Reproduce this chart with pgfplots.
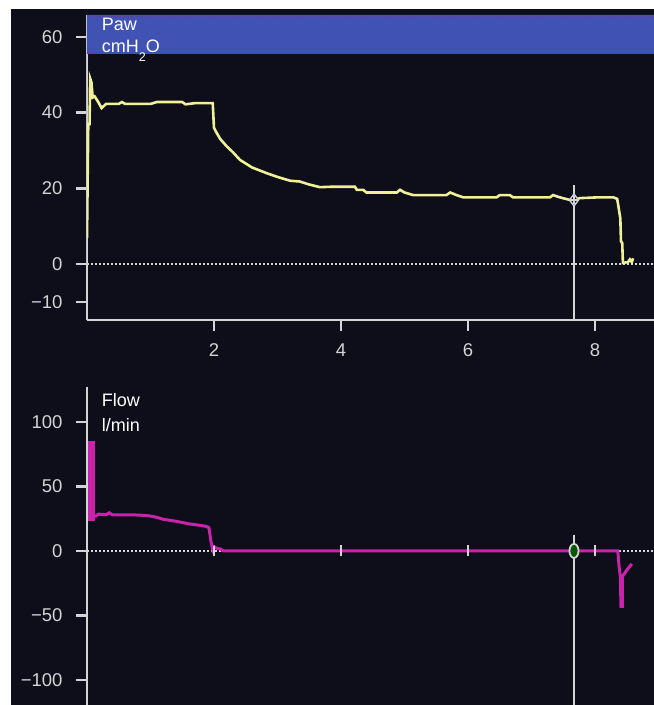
\documentclass[border=0pt]{standalone}
\usepackage{fontspec}
\setmainfont{Liberation Sans}
\usepackage{pgfplots}
\pgfplotsset{compat=1.18}
\definecolor{bgc}{RGB}{14,14,26}
\definecolor{axisc}{RGB}{212,212,212}
\definecolor{pawc}{RGB}{240,240,150}
\definecolor{flowc}{RGB}{200,35,170}
\definecolor{bandc}{RGB}{64,82,180}
\definecolor{bandedge}{RGB}{110,60,150}
\begin{document}
\begin{tikzpicture}[x=1pt,y=1pt]
\fill[white] (0,0) rectangle (654,705);
\fill[bgc] (11,0) rectangle (654,696);
% ---------------- Paw panel ----------------
\begin{axis}[
  at={(87pt,385pt)}, anchor=south west,
  scale only axis, width=567pt, height=305pt,
  xmin=0, xmax=8.93, ymin=-14.8, ymax=65.8,
  axis x line=bottom, axis y line=left,
  axis line style={-, draw=axisc, line width=2.6pt},
  xtick={2,4,6,8}, xticklabels={2,4,6,8},
  ytick={-10,0,20,40,60}, yticklabels={−10,0,20,40,60},
  tick align=outside, major tick length=11pt,
  tick style={draw=axisc, line width=2.4pt},
  ticklabel style={text=axisc, font=\fontsize{18.5}{22}\selectfont},
  yticklabel style={xshift=-10pt},
  xticklabel style={yshift=-9pt},
]
\addplot[fill=bandc, draw=none] coordinates {(0,55.6) (8.93,55.6) (8.93,65.8) (0,65.8)} \closedcycle;
\addplot[bandedge, densely dotted, line width=1.2pt] coordinates {(0,65.4) (8.93,65.4)};
\addplot[bandedge, line width=1pt] coordinates {(0,55.6) (8.93,55.6)};
\addplot[axisc, dash pattern=on 2.2pt off 1.8pt, line width=2pt] coordinates {(0,0) (8.93,0)};
\addplot[axisc, line width=2.8pt] coordinates {(7.67,20.9) (7.67,-14.8)};
\addplot[pawc, line width=2.6pt] coordinates {
(0.0,6.9) (0.02,37) (0.04,37) (0.05,49) (0.07,48) (0.09,44) (0.12,44.3) (0.17,43)
(0.23,41.2) (0.3,42.3) (0.5,42.3) (0.55,42.8) (0.6,42.3) (1.0,42.3) (1.1,42.8)
(1.5,42.8) (1.55,42.2) (1.7,42.5) (1.98,42.5) (2.0,36) (2.04,34.7) (2.1,33)
(2.2,31.1) (2.3,29.5) (2.41,27.5) (2.6,25.5) (2.83,24) (3.0,23) (3.2,22)
(3.35,21.8) (3.5,21) (3.67,20.3) (3.83,20.4) (4.22,20.4) (4.25,19.6) (4.35,19.6)
(4.40,18.9) (4.88,18.9) (4.93,19.6) (5.0,18.9) (5.14,18.2) (5.66,18.2) (5.72,18.9)
(5.82,18.2) (5.93,17.6) (6.45,17.6) (6.50,18.2) (6.66,18.2) (6.71,17.6) (7.29,17.6)
(7.34,18.2) (7.45,17.6) (7.61,16.9) (7.68,16.9) (7.76,17.4) (8.03,17.6) (8.29,17.6)
(8.35,17.2) (8.37,15.2) (8.40,12) (8.41,6) (8.43,5.5) (8.44,0.3) (8.52,0.5)
(8.55,1.2) (8.58,0.5) (8.6,1.5)
};
\addplot[only marks, mark=diamond*, mark size=6pt, mark options={fill=bgc, draw=axisc, line width=1.4pt}] coordinates {(7.67,16.9)};
\addplot[only marks, mark=+, mark size=4pt, mark options={draw=axisc, line width=1.2pt}] coordinates {(7.67,16.9)};
\end{axis}
% ---------------- Flow panel ----------------
\begin{axis}[
  at={(87pt,0pt)}, anchor=south west,
  scale only axis, width=567pt, height=318pt,
  xmin=0, xmax=8.93, ymin=-119.4, ymax=127,
  axis x line=middle, axis y line=left,
  x axis line style={-, draw=axisc, dash pattern=on 2.2pt off 1.8pt, line width=2pt},
  y axis line style={-, draw=axisc, line width=2.6pt},
  xtick={2,4,6,8}, xticklabels={},
  ytick={-100,-50,0,50,100}, yticklabels={−100,−50,0,50,100},
  xtick align=center, ytick align=outside, major tick length=11pt,
  tick style={draw=axisc, line width=2.4pt},
  ticklabel style={text=axisc, font=\fontsize{18.5}{22}\selectfont},
  yticklabel style={xshift=-10pt},
  axis on top=false,
]
\addplot[axisc, line width=2.8pt] coordinates {(7.67,12.4) (7.67,-119.4)};
\addplot[flowc, line width=3pt] coordinates {
(0.06,28) (0.14,27) (0.18,28.5) (0.3,28) (0.35,29.5) (0.4,28) (0.7,28) (0.9,27.5)
(1.0,27) (1.1,26) (1.2,24.5) (1.4,23) (1.5,22) (1.6,21) (1.75,20) (1.88,19)
(1.92,18) (1.95,8) (1.98,1) (2.0,3) (2.05,2) (2.1,1.5) (2.15,0) (8.36,0)
(8.38,-12) (8.40,-20) (8.41,-43) (8.43,-43) (8.43,-20) (8.5,-15) (8.58,-10)
};
\addplot[flowc, line width=7pt] coordinates {(0.065,85) (0.065,23)};
\addplot[only marks, mark=|, mark size=5pt, mark options={draw=axisc, line width=2.2pt}] coordinates {(2,0) (4,0) (6,0) (8,0)};
\addplot[only marks, mark=*, mark size=7pt, mark options={fill=green!35!black, draw=axisc, line width=1.8pt, xscale=0.65}] coordinates {(7.67,0)};
\end{axis}
\node[anchor=base west, text=white, font=\fontsize{18}{20}\selectfont, inner sep=0pt] at (101.7,674) {Paw};
\node[anchor=base west, text=white, font=\fontsize{18}{20}\selectfont, inner sep=0pt] at (101.7,652) {cmH\raisebox{-9pt}{\fontsize{12.5}{12}\selectfont 2}O};
\node[anchor=base west, text=white, font=\fontsize{18}{20}\selectfont, inner sep=0pt] at (101.7,298.3) {Flow};
\node[anchor=base west, text=white, font=\fontsize{18}{20}\selectfont, inner sep=0pt] at (101.7,273.3) {l/min};
\pgfresetboundingbox
\path (0,0) rectangle (654,705);
\end{tikzpicture}
\end{document}
